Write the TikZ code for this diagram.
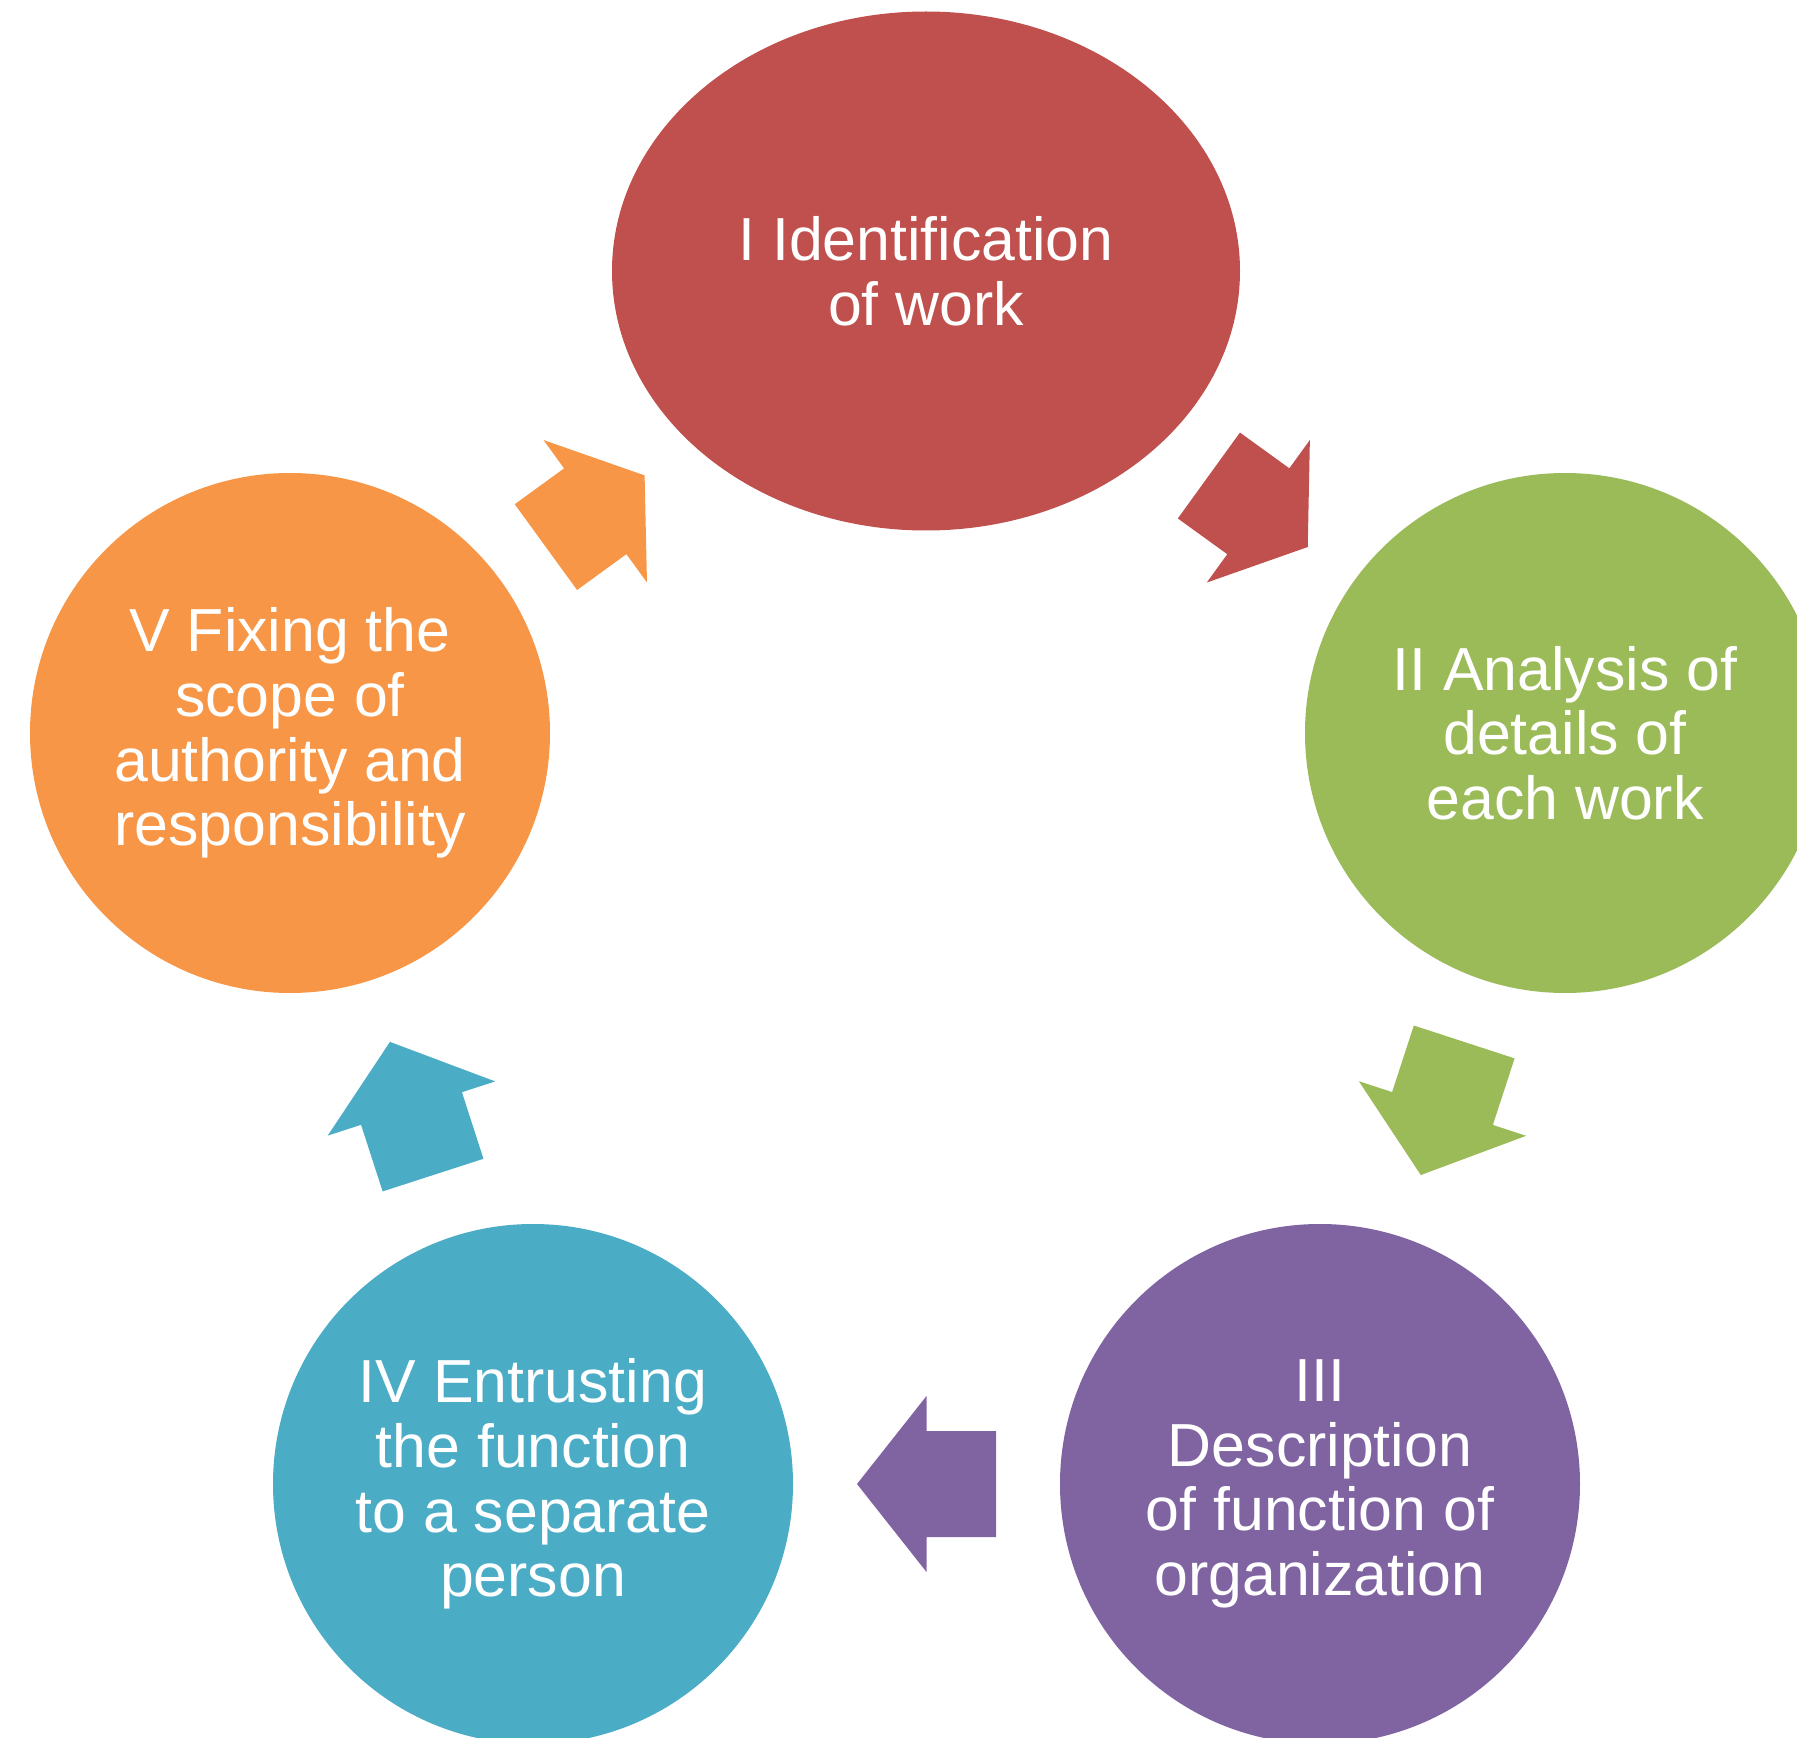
\documentclass[tikz,border=0pt]{standalone}
\usepackage{fontspec}
\setmainfont{Liberation Sans}
\usetikzlibrary{shapes.geometric}
\definecolor{stageI}{HTML}{C0504D}
\definecolor{stageII}{HTML}{9BBB59}
\definecolor{stageIII}{HTML}{8064A2}
\definecolor{stageIV}{HTML}{4BACC6}
\definecolor{stageV}{HTML}{F79646}
\begin{document}
\begin{tikzpicture}
  [every node/.style={circle,minimum size=5.2cm,inner sep=0pt,text=white,align=center,
     font=\fontsize{17.3}{18.4}\selectfont},
   pics/blockarrow/.style={code={
     \path[pic actions] (-#1/2,-.53) -- (0,-.53) -- (0,-.88) -- (#1/2,0)
       -- (0,.88) -- (0,.53) -- (-#1/2,.53) -- cycle;}}]
  \clip (0,0) rectangle (17.97,-17.38);
  \node[ellipse,minimum width=6.28cm,minimum height=5.19cm,fill=stageI] (n1) at (9.26,-2.71)
    {I Identification\\of work};
  \node[fill=stageII] (n2) at (15.65,-7.33) {II Analysis of\\details of\\each work};
  \node[fill=stageIII] (n3) at (13.20,-14.84) {III\\Description\\of function of\\organization};
  \node[fill=stageIV] (n4) at (5.33,-14.84) {IV Entrusting\\the function\\to a separate\\person};
  \node[fill=stageV] (n5) at (2.90,-7.33) {V Fixing the\\scope of\\authority and\\responsibility};
  \foreach \from/\to/\col/\len in {n1/n2/stageI/1.22, n2/n3/stageII/1.40,
    n3/n4/stageIII/1.39, n4/n5/stageIV/1.40, n5/n1/stageV/1.22}
    \path (\from) -- (\to) pic[pos=.5,sloped,allow upside down,fill=\col]{blockarrow=\len};

\end{tikzpicture}
\end{document}
